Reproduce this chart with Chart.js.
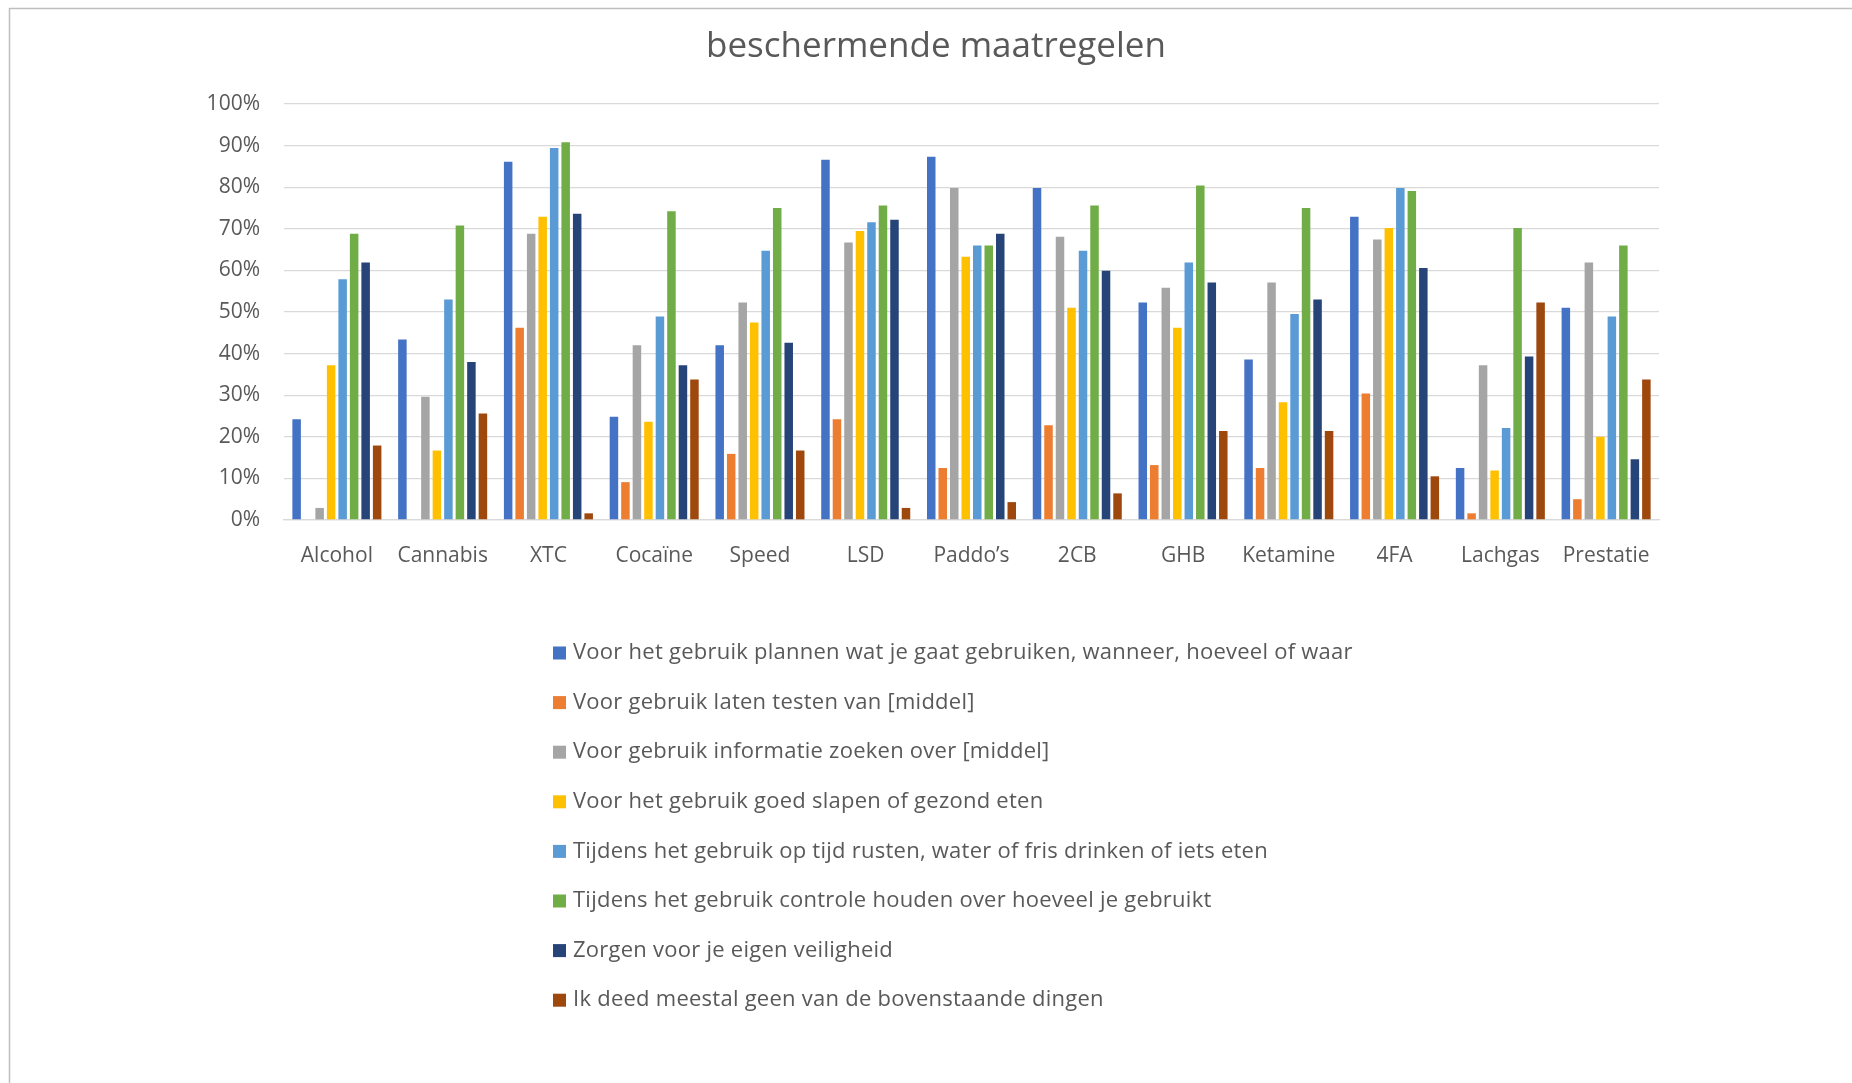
<!DOCTYPE html>
<html>
<head>
<meta charset="utf-8">
<title>beschermende maatregelen</title>
<script src="https://cdn.jsdelivr.net/npm/chart.js@4.4.1/dist/chart.umd.min.js"></script>
<style>
    html, body { margin: 0; padding: 0; background: #fff; }
    #wrap { position: relative; width: 1852px; height: 1083px; }
</style>
</head>
<body>
<div id="wrap"><canvas id="chart"></canvas></div>
<script>
// categories + one array per series (percentages)
const categories = ['Alcohol', 'Cannabis', 'XTC', 'Cocaïne', 'Speed', 'LSD', 'Paddo’s', '2CB', 'GHB', 'Ketamine', '4FA', 'Lachgas', 'Prestatie'];

const planning   = [24.2, 43.4, 86.1, 24.8, 42.0, 86.6, 87.3, 79.8, 52.3, 38.6, 72.9, 12.5, 51.0];
const testen     = [0,    0,    46.2,  9.1, 15.9, 24.2, 12.5, 22.8, 13.2, 12.5, 30.4,  1.6,  5.0];
const informatie = [2.9,  29.6, 68.8, 42.0, 52.3, 66.7, 79.8, 68.1, 55.8, 57.1, 67.4, 37.2, 61.9];
const slapen     = [37.2, 16.7, 72.9, 23.6, 47.5, 69.5, 63.3, 51.0, 46.2, 28.3, 70.2, 11.9, 20.0];
const rusten     = [57.9, 53.0, 89.4, 48.9, 64.7, 71.6, 66.0, 64.7, 61.9, 49.5, 79.8, 22.1, 48.9];
const controle   = [68.8, 70.8, 90.8, 74.2, 75.0, 75.6, 66.0, 75.6, 80.4, 75.0, 79.1, 70.2, 66.0];
const veiligheid = [61.9, 38.0, 73.6, 37.2, 42.6, 72.2, 68.8, 59.9, 57.1, 53.0, 60.6, 39.3, 14.6];
const geen       = [17.9, 25.6,  1.6, 33.8, 16.7,  2.9,  4.3,  6.4, 21.4, 21.4, 10.5, 52.3, 33.8];

const yTicks = [0, 10, 20, 30, 40, 50, 60, 70, 80, 90, 100];

const seriesLabels = [
    'Voor het gebruik plannen wat je gaat gebruiken, wanneer, hoeveel of waar',
    'Voor gebruik laten testen van [middel]',
    'Voor gebruik informatie zoeken over [middel]',
    'Voor het gebruik goed slapen of gezond eten',
    'Tijdens het gebruik op tijd rusten, water of fris drinken of iets eten',
    'Tijdens het gebruik controle houden over hoeveel je gebruikt',
    'Zorgen voor je eigen veiligheid',
    'Ik deed meestal geen van de bovenstaande dingen'
];
const seriesData = [planning, testen, informatie, slapen, rusten, controle, veiligheid, geen];
const colors = ['#4472C4', '#ED7D31', '#A5A5A5', '#FFC000', '#5B9BD5', '#70AD47', '#264478', '#9E480E'];

const FONT = '"Open Sans", "Noto Sans", sans-serif';
const TEXT = '#595959';

// frame line top/left like the spreadsheet export
const frame = {
    id: 'frame',
    beforeDraw(chart) {
        const ctx = chart.ctx;
        ctx.save();
        ctx.strokeStyle = '#BFBFBF';
        ctx.lineWidth = 1.5;
        ctx.beginPath();
        ctx.moveTo(9.5, chart.height);
        ctx.lineTo(9.5, 8.5);
        ctx.lineTo(chart.width, 8.5);
        ctx.stroke();
        ctx.restore();
    }
};

// one legend entry per line, below the plot
const legendList = {
    id: 'legendList',
    afterDraw(chart) {
        const ctx = chart.ctx;
        ctx.save();
        ctx.font = '22px ' + FONT;
        ctx.letterSpacing = '0.25px';
        ctx.textBaseline = 'middle';
        ctx.textAlign = 'left';
        chart.data.datasets.forEach((ds, i) => {
            const y = 653 + i * 49.6;
            ctx.fillStyle = ds.backgroundColor;
            ctx.fillRect(553, y - 6.5, 13, 13);
            ctx.fillStyle = TEXT;
            ctx.fillText(ds.label, 573, y);
        });
        ctx.restore();
    }
};

const ctx = document.getElementById('chart').getContext('2d');
new Chart(ctx, {
    type: 'bar',
    data: {
        labels: categories,
        datasets: seriesData.map((d, i) => ({
            label: seriesLabels[i],
            data: d,
            backgroundColor: colors[i],
            categoryPercentage: 0.87,
            barPercentage: 0.74
        }))
    },
    options: {
        responsive: true,
        maintainAspectRatio: false,
        animation: false,
        layout: {
            padding: { left: 20, right: 0, top: 0, bottom: 503 }
        },
        plugins: {
            legend: { display: false },
            tooltip: { enabled: false },
            title: {
                display: true,
                text: 'beschermende maatregelen',
                color: TEXT,
                font: { family: FONT, size: 35, weight: 'normal' },
                padding: { top: 26, bottom: 36 }
            }
        },
        scales: {
            x: {
                grid: { display: false, drawTicks: false },
                border: { display: true, color: '#D9D9D9', width: 1.3 },
                ticks: {
                    color: TEXT,
                    font: { family: FONT, size: 21 },
                    padding: 23,
                    maxRotation: 0,
                    autoSkip: false
                },
                afterFit(scale) { scale.height = 60; }
            },
            y: {
                min: 0,
                max: 100,
                afterBuildTicks(scale) {
                    scale.ticks = yTicks.map(v => ({ value: v }));
                },
                grid: { color: '#D9D9D9', lineWidth: 1.3, drawTicks: false },
                border: { display: false },
                ticks: {
                    color: TEXT,
                    font: { family: FONT, size: 21 },
                    padding: 24,
                    callback: v => v + '%'
                },
                afterFit(scale) { scale.width = 264; }
            },
            yRight: {
                position: 'right',
                display: true,
                grid: { display: false, drawTicks: false },
                border: { display: false },
                ticks: { display: false },
                afterFit(scale) { scale.width = 193; }
            }
        }
    },
    plugins: [frame, legendList]
});
</script>
</body>
</html>
